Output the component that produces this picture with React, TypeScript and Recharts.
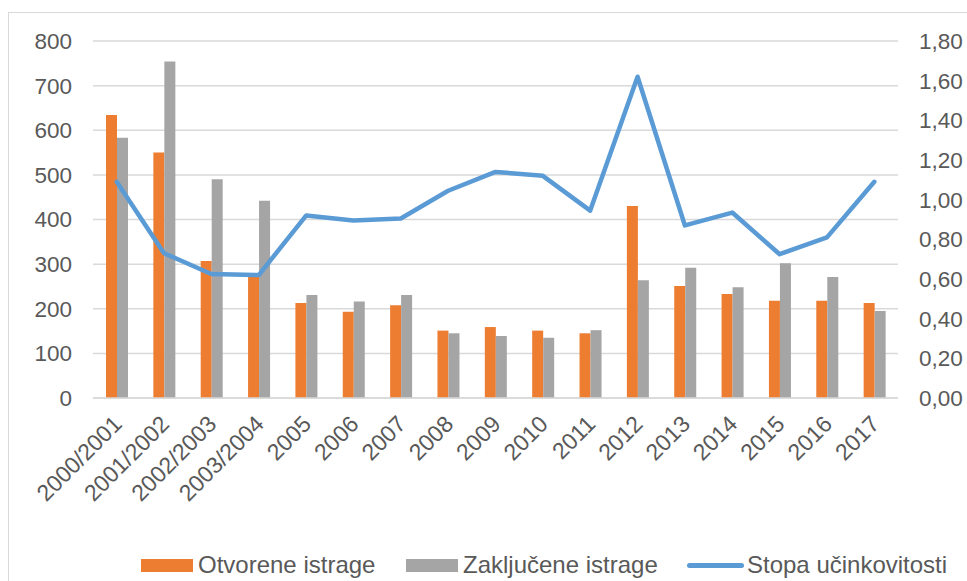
import React from 'react';
import { ComposedChart, Bar, Line, XAxis, YAxis, CartesianGrid, Legend } from 'recharts';

const categories = ['2000/2001', '2001/2002', '2002/2003', '2003/2004', '2005', '2006', '2007', '2008', '2009', '2010', '2011', '2012', '2013', '2014', '2015', '2016', '2017'];
const otvoreneIstrage = [634, 550, 307, 273, 213, 193, 208, 151, 159, 151, 145, 430, 251, 233, 218, 218, 213];
const zakljuceneIstrage = [583, 754, 490, 442, 231, 216, 231, 145, 139, 135, 152, 264, 292, 248, 302, 271, 195];
const stopaUcinkovitosti = [1.09, 0.73, 0.625, 0.62, 0.92, 0.895, 0.905, 1.045, 1.14, 1.12, 0.945, 1.62, 0.87, 0.935, 0.725, 0.81, 1.09];
const leftTicks = [0, 100, 200, 300, 400, 500, 600, 700, 800];
const rightTicks = [0, 0.2, 0.4, 0.6, 0.8, 1.0, 1.2, 1.4, 1.6, 1.8];

const SERIES = [
  { key: 'otvorene', name: 'Otvorene istrage', color: '#ED7D31', type: 'bar' },
  { key: 'zakljucene', name: 'Zaključene istrage', color: '#A5A5A5', type: 'bar' },
  { key: 'stopa', name: 'Stopa učinkovitosti', color: '#5B9BD5', type: 'line' },
];

const data = categories.map((c, i) => ({
  name: c,
  otvorene: otvoreneIstrage[i],
  zakljucene: zakljuceneIstrage[i],
  stopa: stopaUcinkovitosti[i],
}));

const FONT = '"Liberation Sans", Arial, sans-serif';
const TEXT = '#595959';

const renderLegend = () => (
  <div style={{ position: 'relative', height: 30, fontFamily: FONT, fontSize: 24, color: TEXT }}>
    {SERIES.map((s, i) => {
      const lefts = [141, 406, 687];
      return (
        <div key={s.key} style={{ position: 'absolute', left: lefts[i], top: 0, height: 30, display: 'flex', alignItems: 'center', whiteSpace: 'nowrap' }}>
          {s.type === 'bar' ? (
            <span style={{ display: 'inline-block', width: 52, height: 13, background: s.color, marginRight: 5 }} />
          ) : (
            <span style={{ display: 'inline-block', width: 57, height: 5, borderRadius: 3, background: s.color, marginRight: 3 }} />
          )}
          <span>{s.name}</span>
        </div>
      );
    })}
  </div>
);

export default function App() {
  return (
    <div style={{ position: 'absolute', left: 0, top: 0, width: 967, height: 581, overflow: 'hidden', background: '#fff' }}>
      <div style={{ position: 'absolute', left: 8, top: 12, width: 1000, height: 700, borderLeft: '1.5px solid #D9D9D9', borderTop: '1.5px solid #D9D9D9' }} />
      <div style={{ position: 'absolute', left: 0, top: 0 }}>
        <ComposedChart
          width={967}
          height={581}
          data={data}
          margin={{ top: 41, right: 0, left: 0, bottom: 1 }}
          barGap={0}
          barCategoryGap="27%"
        >
          <CartesianGrid yAxisId="left" vertical={false} stroke="#D9D9D9" strokeWidth={1.5} />
          <XAxis
            dataKey="name"
            interval={0}
            height={152}
            tickLine={false}
            axisLine={{ stroke: '#D9D9D9', strokeWidth: 1.5 }}
            angle={-45}
            textAnchor="end"
            tickMargin={6}
            tick={{ fill: TEXT, fontSize: 23, fontFamily: FONT, dx: -5, dy: 4 }}
          />
          <YAxis
            yAxisId="left"
            width={93}
            domain={[0, 800]}
            ticks={leftTicks}
            tickLine={false}
            axisLine={false}
            tickMargin={15}
            tick={{ fill: TEXT, fontSize: 22.5, fontFamily: FONT }}
          />
          <YAxis
            yAxisId="right"
            orientation="right"
            width={69}
            domain={[0, 1.8]}
            ticks={rightTicks}
            tickLine={false}
            axisLine={false}
            tickMargin={15}
            tickFormatter={(v: number) => v.toFixed(2).replace('.', ',')}
            tick={{ fill: TEXT, fontSize: 22.5, fontFamily: FONT, textAnchor: 'start' }}
          />
          <Legend verticalAlign="bottom" content={renderLegend} wrapperStyle={{ left: 0, width: 967 }} />
          <Bar yAxisId="left" dataKey="otvorene" name={SERIES[0].name} fill={SERIES[0].color} barSize={11} isAnimationActive={false} />
          <Bar yAxisId="left" dataKey="zakljucene" name={SERIES[1].name} fill={SERIES[1].color} barSize={11} isAnimationActive={false} />
          <Line
            yAxisId="right"
            dataKey="stopa"
            name={SERIES[2].name}
            stroke={SERIES[2].color}
            strokeWidth={4.5}
            strokeLinejoin="round"
            strokeLinecap="round"
            dot={false}
            activeDot={false}
            isAnimationActive={false}
          />
        </ComposedChart>
      </div>
    </div>
  );
}
